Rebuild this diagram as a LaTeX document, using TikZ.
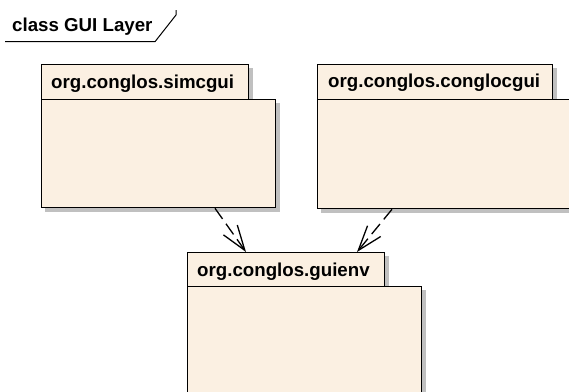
\documentclass[tikz,border=0pt]{standalone}
\usepackage{fontspec}
\setmainfont{Liberation Sans}
\usetikzlibrary{arrows.meta,calc,backgrounds}
\definecolor{pkgfill}{RGB}{251,240,226}
\definecolor{shade}{RGB}{192,192,192}
\begin{document}
\begin{tikzpicture}[x=1pt,y=-1pt,
  pkgbox/.style={draw=black, fill=pkgfill, line width=1.3pt, inner sep=0pt, anchor=north west},
  lbl/.style={font=\fontsize{18.7}{20}\selectfont\bfseries, inner sep=0pt, anchor=base west},
  dep/.style={line width=1.3pt, dash pattern=on 13pt off 6pt, -{Straight Barb[length=25pt,width=17pt,line width=1.3pt]}},
  framel/.style={line width=1pt},
  shadowfill/.style={fill=shade}]
\useasboundingbox (0,0) rectangle (569,391);
\clip (0,0) rectangle (569,391);
% title frame
\node[lbl] (title) at (12,31) {class GUI Layer};
\coordinate (f1) at (5,41.7);
\coordinate (f2) at (155,41.7);
\coordinate (f3) at (176,15);
\coordinate (f4) at (176,10);
\draw[framel] (f1) -- (f2) -- (f3) -- (f4);
% org.conglos.simcgui
\node[pkgbox, minimum width=207pt, minimum height=35pt] (simtab) at (41,64) {};
\node[pkgbox, minimum width=234pt, minimum height=108pt] (simbody) at (41,99) {};
\node[lbl] (simlbl) at (51,88) {org.conglos.simcgui};
% org.conglos.conglocgui
\node[pkgbox, minimum width=235pt, minimum height=35pt] (contab) at (317,64) {};
\node[pkgbox, minimum width=290pt, minimum height=109pt] (conbody) at (317,99) {};
\node[lbl] (conlbl) at (328,87.5) {org.conglos.conglocgui};
% org.conglos.guienv
\node[pkgbox, minimum width=197pt, minimum height=34pt] (guitab) at (187,252) {};
\node[pkgbox, minimum width=234pt, minimum height=160pt] (guibody) at (187,286) {};
\node[lbl] (guilbl) at (197,276) {org.conglos.guienv};
% shadows
\begin{scope}[on background layer]
\foreach \n in {simtab,simbody,contab,conbody,guitab,guibody}{
  \fill[shadowfill] ($(\n.north west)+(4,4)$) rectangle ($(\n.south east)+(4,4)$);
}
\end{scope}
% dependencies
\coordinate (a1) at ($(simbody.south west)+(174,0)$);
\coordinate (a2) at ($(guitab.north west)+(59,0)$);
\coordinate (b1) at ($(conbody.south west)+(75,0)$);
\coordinate (b2) at ($(guitab.north west)+(170,0)$);
\draw[dep] (a1) -- (a2);
\draw[dep] (b1) -- (b2);
\end{tikzpicture}
\end{document}
